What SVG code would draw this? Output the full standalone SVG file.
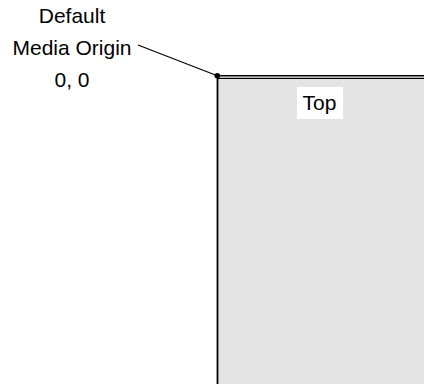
<svg xmlns="http://www.w3.org/2000/svg" width="424" height="384" viewBox="0 0 424 384">
  <style>
    .lbl { font-family: "Liberation Sans", Arial, sans-serif; font-size: 21px; fill: #000; text-anchor: middle; }
    .edge { stroke: #000; fill: none; }
  </style>
  <rect width="424" height="384" fill="#fff"/>

  <!-- media sheet, clipped by the right and bottom of the view -->
  <g id="media">
    <rect x="218" y="79" width="206" height="305" fill="#e4e4e4"/>
    <line class="edge" x1="217.5" y1="75.5" x2="217.5" y2="384" stroke-width="1.8"/>
    <line class="edge" x1="217" y1="75.8" x2="424" y2="75.8" stroke-width="1.4"/>
    <line class="edge" x1="217" y1="78.4" x2="424" y2="78.4" stroke-width="1.4"/>
  </g>

  <g id="top-label">
    <rect x="297" y="87" width="46" height="32" fill="#fff"/>
    <text class="lbl" x="319.5" y="109.5">Top</text>
  </g>

  <g id="origin-label">
    <text class="lbl" x="72" y="23">Default</text>
    <text class="lbl" x="72" y="55">Media Origin</text>
    <text class="lbl" x="72" y="87">0, 0</text>
  </g>

  <g id="connectors">
    <line class="edge" x1="138" y1="45" x2="217.3" y2="75.7" stroke-width="1.2"/>
    <circle cx="217.3" cy="75.7" r="2.8" fill="#000"/>
  </g>
</svg>
